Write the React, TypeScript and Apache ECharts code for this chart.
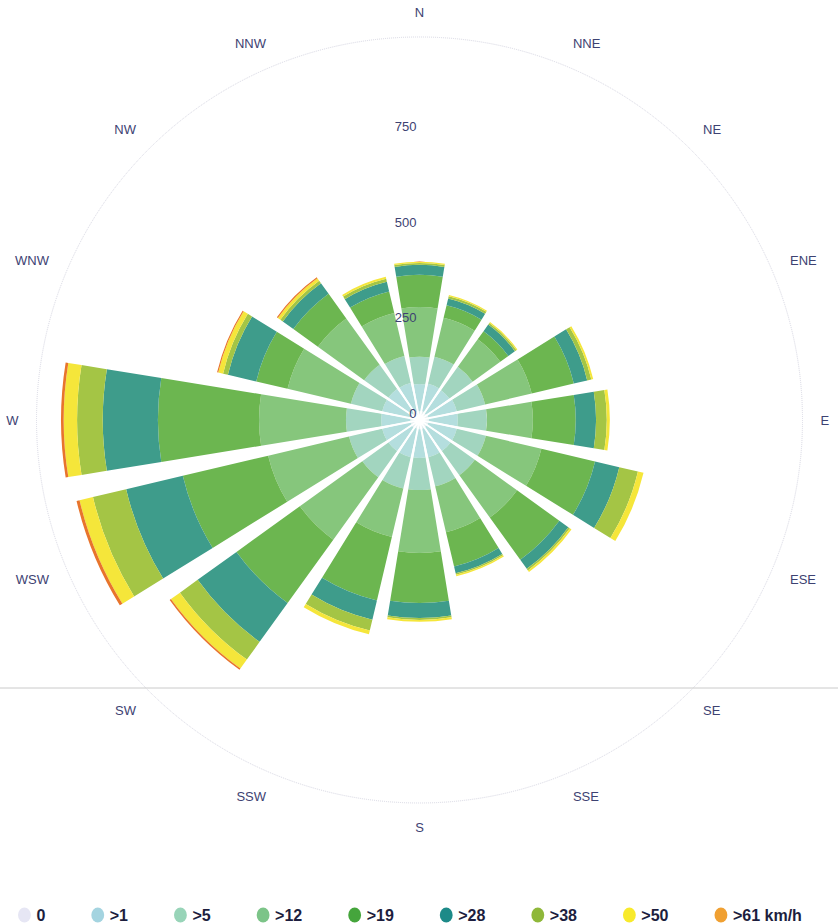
import React, { useEffect, useRef } from "react";
import * as echarts from "echarts";

const directions = ["N", "NNE", "NE", "ENE", "E", "ESE", "SE", "SSE", "S", "SSW", "SW", "WSW", "W", "WNW", "NW", "NNW"];
const speedBands = ["0", ">1", ">5", ">12", ">19", ">28", ">38", ">50", ">61 km/h"];

// frequency per direction (N .. NNW) for each speed band
const band0 = [23, 24, 22, 24, 25, 24, 23, 24, 24, 23, 25, 24, 24, 23, 24, 22];
const band1 = [71, 73, 74, 76, 75, 76, 77, 76, 75, 77, 75, 76, 76, 77, 76, 77];
const band5 = [71, 73, 75, 76, 76, 78, 78, 78, 84, 84, 84, 89, 92, 84, 78, 73];
const band12 = [130, 104, 89, 125, 120, 149, 136, 123, 164, 130, 201, 217, 227, 170, 149, 115];
const band19 = [84, 34, 26, 113, 112, 144, 136, 92, 131, 170, 204, 229, 264, 84, 79, 58];
const band28 = [26, 18, 21, 36, 53, 65, 29, 18, 39, 52, 125, 152, 144, 76, 34, 26];
const band38 = [5, 6, 5, 11, 28, 50, 5, 4, 5, 29, 57, 89, 67, 13, 8, 8];
const band50 = [3, 3, 3, 5, 8, 15, 5, 4, 5, 10, 29, 36, 35, 13, 8, 5];
const band61 = [0, 0, 0, 0, 0, 0, 0, 0, 0, 0, 4, 8, 7, 3, 3, 0];

const radiusMax = 1000;
const radiusStep = 250;

const bandData = [band0, band1, band5, band12, band19, band28, band38, band50, band61];
const barColors = ["#e4eef0", "#b4dede", "#a2d5bf", "#86c67c", "#6cb650", "#3e9c8b", "#a4c545", "#f5e63a", "#e8742c"];
const legendColors = ["#e6e6f4", "#a4d4e0", "#98d4b8", "#7cc488", "#45a53c", "#1d8a88", "#8fb83a", "#f8ea2c", "#f0a032"];

export default function App() {
  const ref = useRef<HTMLDivElement>(null);
  useEffect(() => {
    if (!ref.current) return;
    const chart = echarts.init(ref.current, null, { renderer: "svg" });
    const center = [419.5, 420];
    const radius = 383;
    const option: any = {
      animation: false,
      backgroundColor: "#ffffff",
      polar: [
        { center, radius },
        { center, radius },
      ],
      angleAxis: [
        {
          polarIndex: 0,
          type: "category",
          data: directions,
          startAngle: 90 + 11.25,
          clockwise: true,
          boundaryGap: true,
          z: 10,
          axisLine: { show: true, lineStyle: { color: "#d6d6e2", type: "dotted", width: 1 } },
          axisTick: { show: false },
          splitLine: { show: true, lineStyle: { color: "#ffffff", width: 2 } },
          axisLabel: {
            margin: 18,
            color: "#3d4272",
            fontSize: 13,
            fontFamily: "Liberation Sans, Arial, sans-serif",
          },
        },
        {
          polarIndex: 1,
          type: "value",
          min: 0,
          max: 360,
          startAngle: 90,
          show: false,
        },
      ],
      radiusAxis: [
        {
          polarIndex: 0,
          type: "value",
          min: 0,
          max: radiusMax,
          axisLine: { show: false },
          axisTick: { show: false },
          axisLabel: { show: false },
          splitLine: { show: false },
        },
        {
          polarIndex: 1,
          type: "value",
          min: 0,
          max: radiusMax,
          interval: radiusStep,
          z: 12,
          axisLine: { show: false },
          axisTick: { show: false },
          splitLine: { show: false },
          axisLabel: {
            margin: 3,
            verticalAlign: "bottom",
            color: "#3d4272",
            fontSize: 13,
            fontFamily: "Liberation Sans, Arial, sans-serif",
            formatter: (v: number) => (v >= radiusMax ? "" : String(v)),
          },
        },
      ],
      legend: {
        left: 13,
        top: 901,
        itemWidth: 14,
        itemHeight: 15,
        itemGap: 46,
        icon: "path://M6,0A6,7,0,1,1,6,14A6,7,0,1,1,6,0Z",
        textStyle: {
          color: "#1d1e3e",
          fontSize: 16,
          lineHeight: 18,
          fontWeight: "bold",
          fontFamily: "Liberation Sans, Arial, sans-serif",
        },
        data: speedBands.map((name, i) => ({ name, itemStyle: { color: legendColors[i] } })),
      },
      graphic: [
        {
          type: "line",
          z: 100,
          shape: { x1: 0, y1: 688, x2: 838, y2: 688 },
          style: { stroke: "#cacaca", lineWidth: 1 },
          silent: true,
        },
      ],
      series: speedBands.map((name, i) => ({
        name,
        type: "bar",
        coordinateSystem: "polar",
        polarIndex: 0,
        stack: "wind",
        barCategoryGap: "18%",
        data: bandData[i],
        itemStyle: { color: barColors[i] },
        emphasis: { disabled: true },
      })),
    };
    chart.setOption(option);
    return () => chart.dispose();
  }, []);
  return (
    <div
      ref={ref}
      style={{ position: "fixed", left: 0, top: 0, width: 838, height: 923, background: "#fff" }}
    />
  );
}
